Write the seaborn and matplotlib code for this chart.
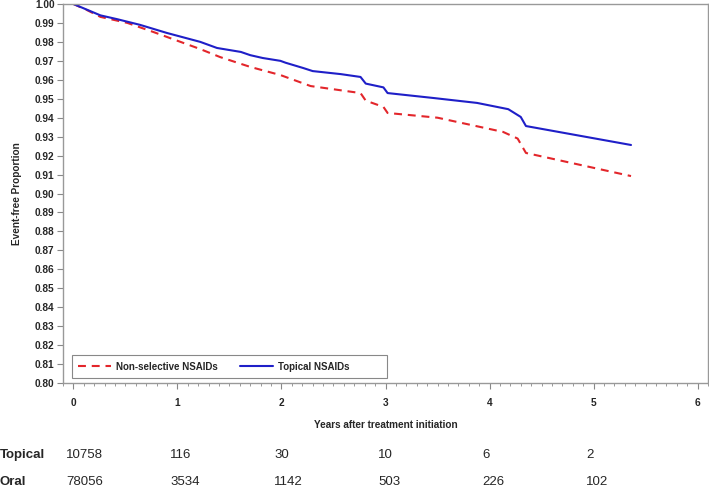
import numpy as np
import pandas as pd
import matplotlib
matplotlib.use("Agg")
import matplotlib.pyplot as plt
import seaborn as sns
from matplotlib.ticker import MultipleLocator
from matplotlib.lines import Line2D
from matplotlib.patches import Rectangle

sns.set_style("white")
plt.rcParams['font.family'] = ['Liberation Sans', 'DejaVu Sans']

# Topical NSAIDs curve (years, event-free proportion)
topical_x = [0.00, 0.26, 0.42, 0.64, 0.90, 1.22, 1.38, 1.61, 1.70, 1.82, 1.99, 2.04,
             2.21, 2.30, 2.57, 2.76, 2.81, 2.98, 3.02, 3.46, 3.88, 4.18, 4.30, 4.35, 5.36]
topical_y = [1.000, 0.994, 0.992, 0.989, 0.9847, 0.980, 0.9768, 0.9747, 0.973, 0.9715, 0.970, 0.969,
             0.9662, 0.9646, 0.963, 0.9615, 0.958, 0.956, 0.953, 0.9504, 0.9478, 0.9445, 0.9404, 0.9356, 0.9256]

# Non-selective NSAIDs curve
oral_x = [0.00, 0.13, 0.26, 0.52, 0.77, 1.03, 1.22, 1.41, 1.70, 1.99, 2.28, 2.76,
          2.81, 2.98, 3.02, 3.50, 4.13, 4.27, 4.35, 5.36]
oral_y = [1.000, 0.9968, 0.9932, 0.990, 0.9852, 0.980, 0.9762, 0.972, 0.9668, 0.9625, 0.9567, 0.953,
          0.949, 0.9457, 0.9425, 0.940, 0.9325, 0.929, 0.9214, 0.9092]

# Number at risk table
risk_times = [0, 1, 2, 3, 4, 5]
risk_topical = [10758, 116, 30, 10, 6, 2]
risk_oral = [78056, 3534, 1142, 503, 226, 102]

df = pd.concat([
    pd.DataFrame({"Years": oral_x, "Proportion": oral_y, "Group": "Non-selective NSAIDs"}),
    pd.DataFrame({"Years": topical_x, "Proportion": topical_y, "Group": "Topical NSAIDs"}),
], ignore_index=True)

fig = plt.figure(figsize=(7.09, 4.88), dpi=100)
ax = fig.add_axes([63/709, 1-383/488, 645/709, 379/488])

palette = {"Non-selective NSAIDs": "#e3262b", "Topical NSAIDs": "#1f1fc8"}
sns.lineplot(data=df, x="Years", y="Proportion", hue="Group", palette=palette,
             sort=False, estimator=None, ax=ax, linewidth=1.5, legend=False)
lines = ax.get_lines()
lines[0].set_dashes([3.8, 2.8])

ax.set_xlim(-0.1, 6.1)
ax.set_ylim(0.80, 1.00)
ax.xaxis.set_minor_locator(MultipleLocator(0.1))
ax.set_xticks(range(0, 7))
ax.set_xticklabels([str(i) for i in range(0, 7)], fontsize=7.3, fontweight='bold')
yt = np.round(np.arange(0.80, 1.0001, 0.01), 2)
ax.set_yticks(yt)
ax.set_yticklabels([f"{v:.2f}" for v in yt], fontsize=7.3, fontweight='bold')
ax.tick_params(axis='both', which='major', direction='out', length=4, width=0.8, color='#888888', pad=2,
               bottom=True, left=True)
ax.tick_params(axis='x', which='major', length=4.5, pad=6)
ax.tick_params(axis='x', which='minor', direction='out', length=2.5, width=0.6, color='#888888', bottom=True)
for s in ax.spines.values():
    s.set_color('#999999')
    s.set_linewidth(1.0)

ax.set_xlabel("Years after treatment initiation", fontsize=7.2, fontweight='bold', labelpad=9)
ax.set_ylabel("Event-free Proportion", fontsize=7.2, fontweight='bold')
ax.yaxis.set_label_coords((22 - 63) / 645, 0.5)

# legend: frame box + entries
ax.add_patch(Rectangle((0.014, 0.0132), 0.488, 0.0607, transform=ax.transAxes,
                       facecolor='white', edgecolor='#888888', linewidth=0.8, zorder=5))
handles = [Line2D([], [], color=palette["Non-selective NSAIDs"], lw=1.5, dashes=[3.8, 2.8]),
           Line2D([], [], color=palette["Topical NSAIDs"], lw=1.5)]
leg = ax.legend(handles, ["Non-selective NSAIDs", "Topical NSAIDs"], ncol=2,
                loc='center left', bbox_to_anchor=((78 - 63) / 645, (383 - 366.5) / 379),
                prop={'size': 7.0, 'weight': 'bold'}, frameon=False,
                handlelength=3.4, handletextpad=0.5, borderpad=0, borderaxespad=0, columnspacing=2.3)
leg.set_zorder(6)

# number-at-risk table
y_top = 1 - 455/488
y_bot = 1 - 482/488
fig.text(0.0, y_top, "Topical", fontsize=9.5, fontweight='bold', va='center', ha='left')
fig.text(0.0, y_bot, "Oral", fontsize=9.5, fontweight='bold', va='center', ha='left')
for t, a, b in zip(risk_times, risk_topical, risk_oral):
    xf = ax.transData.transform((t - 0.07, 0.9))
    xfig = fig.transFigure.inverted().transform(xf)[0]
    fig.text(xfig, y_top, str(a), fontsize=9.5, va='center', ha='left')
    fig.text(xfig, y_bot, str(b), fontsize=9.5, va='center', ha='left')

fig.savefig("out.png", dpi=100)
